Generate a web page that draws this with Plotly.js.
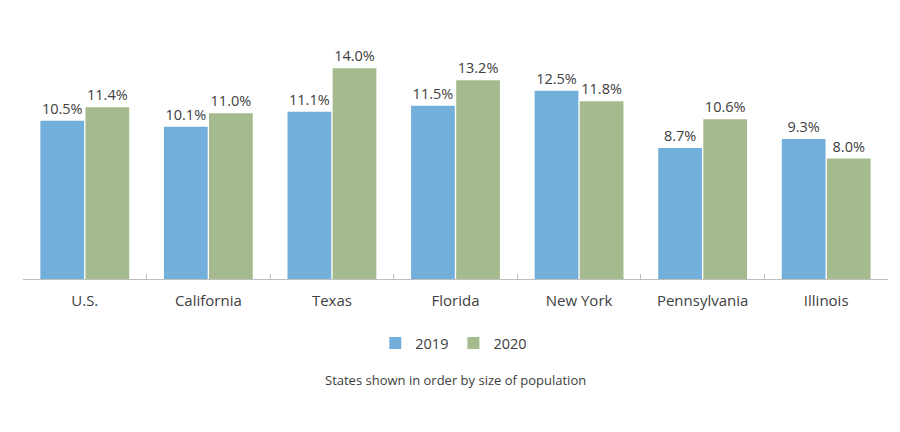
<!DOCTYPE html>
<html>
<head>
<meta charset="utf-8">
<script src="https://cdn.plot.ly/plotly-3.0.1.min.js"></script>
<style>html,body{margin:0;padding:0;background:#fff;}#chart{width:900px;height:432px;}</style>
</head>
<body>
<div id="chart"></div>
<script>
const categories = ["U.S.", "California", "Texas", "Florida", "New York", "Pennsylvania", "Illinois"];
const values2019 = [10.5, 10.1, 11.1, 11.5, 12.5, 8.7, 9.3];
const values2020 = [11.4, 11.0, 14.0, 13.2, 11.8, 10.6, 8.0];
const seriesNames = ["2019", "2020"];
const note = "States shown in order by size of population";

const font = "'Segoe UI', 'Open Sans', 'Noto Sans', sans-serif";
const textColor = "#404040";

function trace(name, vals, color) {
  return {
    type: "bar", name: name, x: categories, y: vals,
    marker: {color: color},
    texttemplate: "%{y:.1f}%", textposition: "outside",
    textfont: {family: font, size: 14.5, color: textColor},
    cliponaxis: false, hoverinfo: "skip"
  };
}

const data = [
  trace(seriesNames[0], values2019, "#73afdb"),
  trace(seriesNames[1], values2020, "#a5bb8e")
];

const layout = {
  width: 900, height: 432,
  margin: {l: 23, r: 12, t: 38, b: 153},
  paper_bgcolor: "#fff", plot_bgcolor: "#fff",
  barmode: "group", bargap: 0.27, bargroupgap: 0.03,
  font: {family: font, color: textColor, size: 14},
  xaxis: {
    showline: true, linecolor: "#bfbfbf", linewidth: 1,
    ticks: "inside", tickson: "boundaries", ticklen: 5, tickcolor: "#bfbfbf",
    tickfont: {family: font, size: 15, color: textColor},
    ticklabelstandoff: 8,
    showgrid: false, zeroline: false
  },
  yaxis: {range: [0, 16], visible: false, showgrid: false, zeroline: false},
  showlegend: true,
  legend: {
    orientation: "h", x: 0.498, xanchor: "center", y: -0.266, yanchor: "middle",
    font: {family: font, size: 14.5, color: textColor},
    itemwidth: 30, traceorder: "normal"
  },
  annotations: [{
    text: note, xref: "paper", yref: "paper", x: 0.5, y: -0.42,
    xanchor: "center", yanchor: "middle", showarrow: false,
    font: {family: font, size: 13, color: textColor}
  }]
};

Plotly.newPlot("chart", data, layout, {displayModeBar: false, staticPlot: true});
</script>
</body>
</html>
